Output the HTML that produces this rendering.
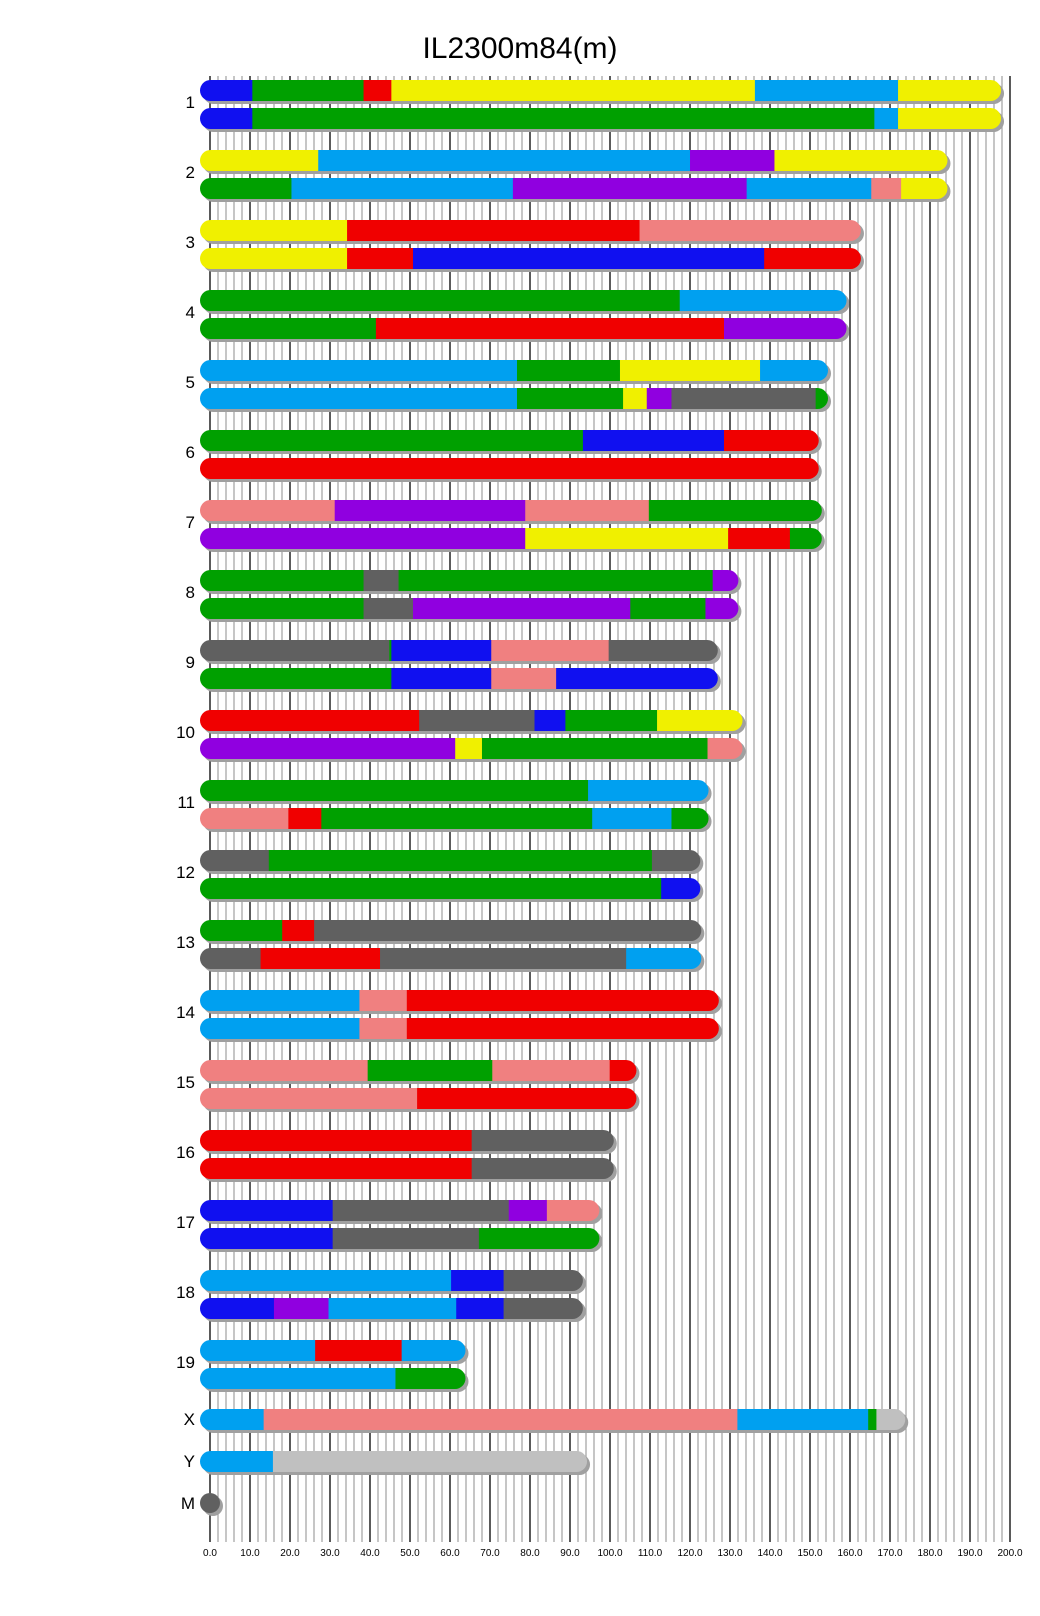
<!DOCTYPE html>
<html><head><meta charset="utf-8">
<style>body{margin:0;background:#fff}svg{display:block}</style>
</head><body>
<svg id="s" width="1040" height="1616" xmlns="http://www.w3.org/2000/svg" font-family="Liberation Sans, sans-serif">
<rect width="1040" height="1616" fill="#fff"/>
<g id="grid"></g>
<g id="bars"></g>
<text x="520" y="58" font-size="30" text-anchor="middle" fill="#000">IL2300m84(m)</text>
<g font-size="17" text-anchor="end" fill="#000">
<text x="195" y="108">1</text><text x="195" y="178">2</text><text x="195" y="248">3</text><text x="195" y="318">4</text>
<text x="195" y="388">5</text><text x="195" y="458">6</text><text x="195" y="528">7</text><text x="195" y="598">8</text>
<text x="195" y="668">9</text><text x="195" y="738">10</text><text x="195" y="808">11</text><text x="195" y="878">12</text>
<text x="195" y="948">13</text><text x="195" y="1018">14</text><text x="195" y="1088">15</text><text x="195" y="1158">16</text>
<text x="195" y="1228">17</text><text x="195" y="1298">18</text><text x="195" y="1368">19</text>
<text x="195" y="1425">X</text><text x="195" y="1467">Y</text><text x="195" y="1509">M</text>
</g>
<g font-size="10" text-anchor="middle" fill="#000">
<text x="210" y="1556">0.0</text><text x="250" y="1556">10.0</text><text x="290" y="1556">20.0</text><text x="330" y="1556">30.0</text>
<text x="370" y="1556">40.0</text><text x="410" y="1556">50.0</text><text x="450" y="1556">60.0</text><text x="490" y="1556">70.0</text>
<text x="530" y="1556">80.0</text><text x="570" y="1556">90.0</text><text x="610" y="1556">100.0</text><text x="650" y="1556">110.0</text>
<text x="690" y="1556">120.0</text><text x="730" y="1556">130.0</text><text x="770" y="1556">140.0</text><text x="810" y="1556">150.0</text>
<text x="850" y="1556">160.0</text><text x="890" y="1556">170.0</text><text x="930" y="1556">180.0</text><text x="970" y="1556">190.0</text>
<text x="1010" y="1556">200.0</text>
</g>
</svg>
<script>
var NS="http://www.w3.org/2000/svg";
function el(t,a,p){var e=document.createElementNS(NS,t);for(var k in a)e.setAttribute(k,a[k]);p.appendChild(e);return e;}
var grid=document.getElementById('grid');
for(var u=0;u<=200;u+=2){var x=210+4*u;var maj=(u%10===0);
el('line',{x1:x,x2:x,y1:76,y2:1542,stroke:maj?'#000':'#a0a0a0','stroke-width':maj?1.3:1.2},grid);}
var C={b:'#1010f0',g:'#00a000',r:'#f00000',y:'#f0f000',l:'#00a0f0',p:'#9000e0',s:'#f08080',d:'#606060',q:'#c0c0c0'};
var D=[
[[ 'b',245,'g',353,'r',380,'y',733,'l',872,'y',972],['b',245,'g',849,'l',872,'y',972]],
[['y',309,'l',670,'p',752,'y',920],['g',283,'l',498,'p',725,'l',846,'s',875,'y',920]],
[['y',337,'r',621,'s',836],['y',337,'r',401,'b',742,'r',836]],
[['g',660,'l',822],['g',365,'r',703,'p',822]],
[['l',502,'g',602,'y',738,'l',804],['l',502,'g',605,'y',628,'p',652,'d',792,'g',804]],
[['g',566,'b',703,'r',795],['r',795]],
[['s',325,'p',510,'s',630,'g',798],['p',510,'y',707,'r',767,'g',798]],
[['g',353,'d',387,'g',692,'p',717],['g',353,'d',401,'p',612,'g',685,'p',717]],
[['d',378,'g',380,'b',477,'s',591,'d',697],['g',380,'b',477,'s',540,'b',697]],
[['r',407,'d',519,'b',549,'g',638,'y',721],['p',442,'y',468,'g',687,'s',721]],
[['g',571,'l',688],['s',280,'r',312,'g',575,'l',652,'g',688]],
[['d',261,'g',633,'d',680],['g',642,'b',680]],
[['g',274,'r',305,'d',681],['d',253,'r',369,'d',608,'l',681]],
[['l',349,'s',395,'r',698],['l',349,'s',395,'r',698]],
[['s',357,'g',478,'s',592,'r',618],['s',405,'r',618]],
[['r',458,'d',596],['r',458,'d',596]],
[['b',323,'d',494,'p',531,'s',582],['b',323,'d',465,'g',582]],
[['l',438,'b',489,'d',566],['b',266,'p',319,'l',443,'b',489,'d',566]],
[['l',306,'r',390,'l',452],['l',384,'g',452]]
];
var bars=document.getElementById('bars');var id=0;
function bar(y,seg){var f=0.971;var end=seg[seg.length-1]/f;var x0=200,h=21,r=10.5;
el('rect',{x:x0+3,y:y+3,width:end-x0,height:h,rx:r,ry:r,fill:'#a0a0a0'},bars);
var cid='c'+(id++);var cp=el('clipPath',{id:cid},bars);
el('rect',{x:x0,y:y,width:end-x0,height:h,rx:r,ry:r},cp);
var g=el('g',{'clip-path':'url(#'+cid+')'},bars);var prev=x0;
for(var i=0;i<seg.length;i+=2){var e=seg[i+1]/f;el('rect',{x:prev,y:y,width:e-prev+0.6,height:h,fill:C[seg[i]]},g);prev=e;}}
for(var i=0;i<D.length;i++){bar(80+70*i,D[i][0]);bar(108+70*i,D[i][1]);}
bar(1409,['l',256,'s',716,'l',843,'g',851,'q',879]);
bar(1451,['l',265,'q',570]);
el('circle',{cx:213,cy:1506,r:10,fill:'#a0a0a0'},bars);
el('circle',{cx:210,cy:1503,r:10,fill:'#606060'},bars);
</script>
</body></html>
